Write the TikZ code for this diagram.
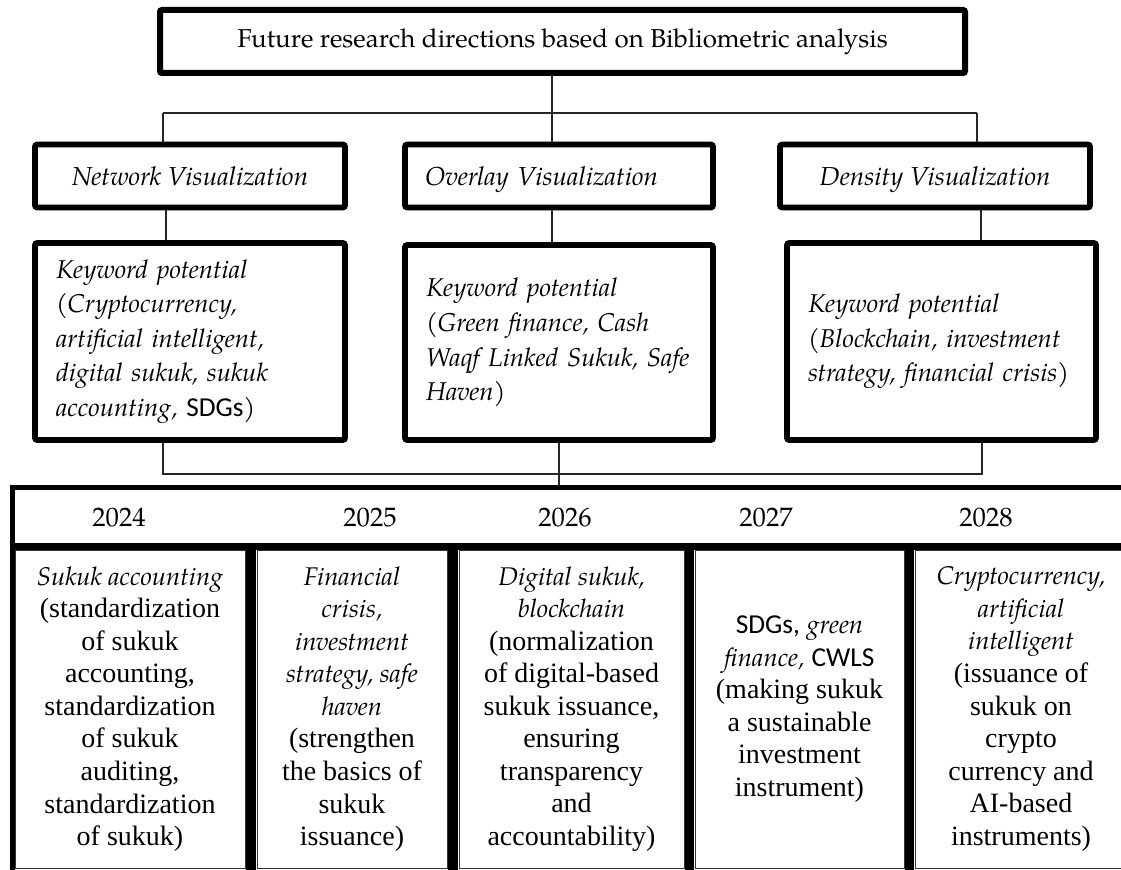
\documentclass[tikz,border=0pt]{standalone}
\usepackage{fontspec}
\setmainfont{Liberation Serif}
\newfontfamily\carl{Carlito}
\newfontfamily\pal{TeX Gyre Pagella}
\newcommand\kw[1]{{\pal\itshape\fontsize{19.2}{24.4}\selectfont #1}}
\newcommand\ab[1]{{\carl\fontsize{20.5}{24.4}\selectfont #1}}
\usetikzlibrary{calc}
\tikzset{
  x=0.75pt, y=-0.75pt,
  wire/.style={line width=1.1pt, black!85},
  titlebox/.style={draw, line width=4.5pt, rounded corners=1.5pt, inner sep=0pt,
    minimum width=603.75pt, minimum height=47.25pt,
    font=\pal\fontsize{19.4}{22}\selectfont},
  visbox/.style={draw, line width=4.2pt, rounded corners=1.5pt, inner sep=0pt,
    minimum height=47.25pt, text height=16pt, text depth=1pt,
    font=\pal\itshape\fontsize{19.5}{22}\selectfont},
  kwbox/.style={draw, line width=4.2pt, rounded corners=1.5pt, inner xsep=15.75pt,
    inner ysep=0pt, align=left, font=\pal\itshape\fontsize{19.3}{25.9}\selectfont},
  cell/.style={draw, line width=0.75pt, black!80, text=black, inner sep=0pt,
    minimum height=238.5pt, align=center, font=\fontsize{21}{24.4}\selectfont},
  year/.style={inner sep=0pt, font=\pal\fontsize{20}{22}\selectfont},
  bar/.style={fill=black, draw=none},
}
\begin{document}
\begin{tikzpicture}
\useasboundingbox (0,0) rectangle (1121,870);
\fill[white] (0,0) rectangle (1121,870);

% title
\node[titlebox] (t) at (562.5,41.5) {Future research directions based on Bibliometric analysis};

% visualization boxes
\node[visbox, minimum width=232.5pt] (nv) at (190,176) {Network Visualization};
\node[visbox, minimum width=231pt, text width=201pt, align=left, inner xsep=15pt] (ov) at (559,176) {Overlay Visualization};
\node[visbox, minimum width=232.5pt] (dv) at (935,176) {Density Visualization};

% keyword boxes
\node[kwbox, text width=201pt, minimum height=147.75pt] (nk) at (190,341.5)
  {Keyword potential\\(Cryptocurrency,\\artificial intelligent,\\digital sukuk, sukuk\\accounting, {\upshape\ab{SDGs}})};
\node[kwbox, text width=199.5pt, minimum height=146.25pt] (ok) at (559,342.5)
  {Keyword potential\\(Green finance, Cash\\Waqf Linked Sukuk, Safe\\Haven)};
\node[kwbox, text width=200.25pt, minimum height=147.75pt] (dk) at (941.5,341.5)
  {Keyword potential\\(Blockchain, investment\\strategy, financial crisis)};

% tree connectors
\coordinate (bm) at (552,113);
\coordinate (bl) at (163,113);
\coordinate (br) at (977,113);
\draw[wire] (t.south -| bm) -- (bm);
\draw[wire] (bl) -- (br);
\draw[wire] (bl) -- (bl |- nv.north);
\draw[wire] (bm) -- (bm |- ov.north);
\draw[wire] (br) -- (br |- dv.north);

\coordinate (k1) at (166,0);
\coordinate (k2) at (552,0);
\coordinate (k3) at (981,0);
\draw[wire] (nv.south -| k1) -- (nk.north -| k1);
\draw[wire] (ov.south -| k2) -- (ok.north -| k2);
\draw[wire] (dv.south -| k3) -- (dk.north -| k3);

\coordinate (jl) at (163,474);
\coordinate (jr) at (982,474);
\coordinate (jm) at (559,474);
\draw[wire] (nk.south -| jl) -- (jl) -- (jr) -- (dk.south -| jr);

% timeline table
\coordinate (tab) at (559,487.5);
\draw[wire] (ok.south -| jm) -- (tab);
\fill[black] (10,485) rectangle (1121,490);
\fill[black] (10,485) rectangle (15,870);
\fill[black] (10,543) rectangle (1121,550);

\node[year] (y1) at (119,518) {2024};
\node[year] (y2) at (370,518) {2025};
\node[year] (y3) at (565,518) {2026};
\node[year] (y4) at (766,518) {2027};
\node[year] (y5) at (986,518) {2028};

\fill[bar] (246,550) rectangle (256,870);
\fill[bar] (448,550) rectangle (458,870);
\fill[bar] (685,550) rectangle (694,870);
\fill[bar] (905,550) rectangle (914,870);

\node[cell, minimum width=172.5pt] (c1) at (130,709)
  {\kw{Sukuk accounting}\\(standardization\\of sukuk\\accounting,\\standardization\\of sukuk\\auditing,\\standardization\\of sukuk)};
\node[cell, minimum width=142.5pt] (c2) at (352,709)
  {\kw{Financial}\\\kw{crisis,}\\\kw{investment}\\\kw{strategy, safe}\\\kw{haven}\\(strengthen\\the basics of\\sukuk\\issuance)};
\node[cell, minimum width=168.75pt] (c3) at (571.5,709)
  {\kw{Digital sukuk,}\\\kw{blockchain}\\(normalization\\of digital-based\\sukuk issuance,\\ensuring\\transparency\\and\\accountability)};
\node[cell, minimum width=156.75pt] (c4) at (799.5,709)
  {\ab{SDGs,} \kw{green}\\\kw{finance,} \ab{CWLS}\\(making sukuk\\a sustainable\\investment\\instrument)};
\node[cell, minimum width=159pt] (c5) at (1021,709)
  {\kw{Cryptocurrency,}\\\kw{artificial}\\\kw{intelligent}\\(issuance of\\sukuk on\\crypto\\currency and\\AI-based\\instruments)};
\end{tikzpicture}
\end{document}
